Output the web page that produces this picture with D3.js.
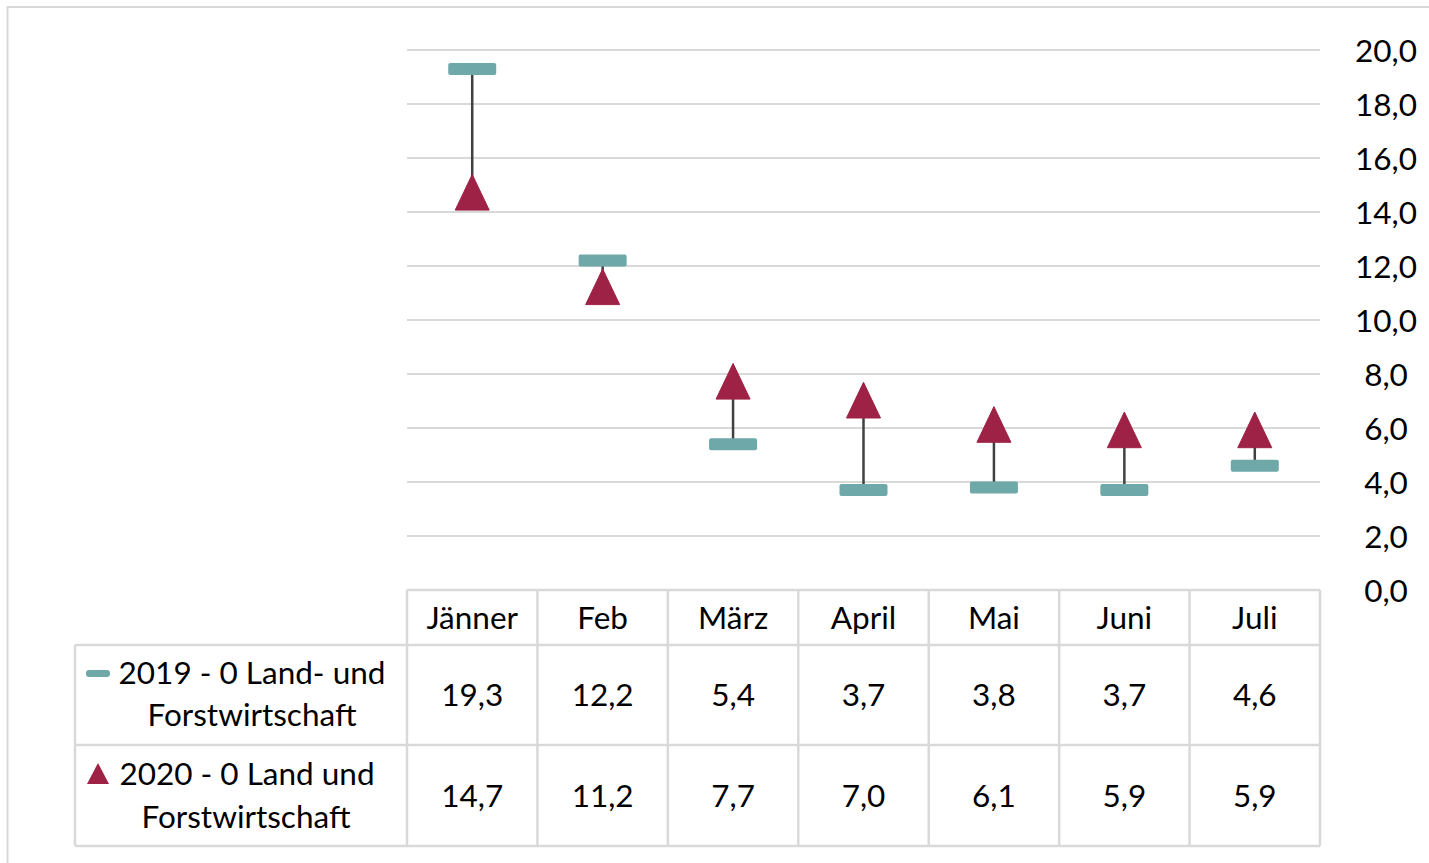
<!DOCTYPE html>
<html><head><meta charset="utf-8">
<script src="https://cdn.jsdelivr.net/npm/d3@7"></script>
<style>html,body{margin:0;padding:0;background:#fff;}svg{display:block;}</style>
</head><body>
<svg id="c" width="1429" height="863"></svg>
<script>
const categories = ["Jänner","Feb","März","April","Mai","Juni","Juli"];
const values2019 = [19.3,12.2,5.4,3.7,3.8,3.7,4.6];
const values2020 = [14.7,11.2,7.7,7.0,6.1,5.9,5.9];
const seriesNames = [["2019 - 0 Land- und","Forstwirtschaft"],["2020 - 0 Land und","Forstwirtschaft"]];
const yTicks = [0,2,4,6,8,10,12,14,16,18,20];

(function(){
const svg = d3.select("#c");
const FONT = "Lato, 'Open Sans', sans-serif";
const FS = 31.5;
const teal = "#6fa8a9", red = "#9e2246", grid = "#d9d9d9";

svg.append("rect").attr("x",7.5).attr("y",7).attr("width",1440).attr("height",900)
  .attr("fill","none").attr("stroke",grid).attr("stroke-width",2);

const pLeft = 407, pRight = 1320, pTop = 50, pBottom = 590;
const x = d3.scaleBand().domain(categories).range([pLeft,pRight]);
const y = d3.scaleLinear().domain([0,20]).range([pBottom,pTop]);

svg.append("g").selectAll("line").data(yTicks.filter(t=>t>0)).join("line")
  .attr("x1",pLeft).attr("x2",pRight).attr("y1",d=>y(d)).attr("y2",d=>y(d))
  .attr("stroke",grid).attr("stroke-width",2);

const fmt = d => d3.format(".1f")(d).replace(".",",");
const yAxis = d3.axisRight(y).tickValues(yTicks).tickFormat(fmt).tickSize(0).tickPadding(0);
const ag = svg.append("g").attr("transform",`translate(1386,0)`).call(yAxis);
ag.select(".domain").remove();
ag.selectAll("text").attr("font-family",FONT).attr("font-size",FS).attr("fill","#000")
  .attr("text-anchor","middle").attr("dy","0.35em");

const cx = d => x(d)+x.bandwidth()/2;
svg.append("g").selectAll("line").data(categories).join("line")
  .attr("x1",cx).attr("x2",cx)
  .attr("y1",(d,i)=>y(values2019[i])).attr("y2",(d,i)=>y(values2020[i]))
  .attr("stroke","#404040").attr("stroke-width",2.5);

svg.append("g").selectAll("rect").data(categories).join("rect")
  .attr("x",d=>cx(d)-24).attr("y",(d,i)=>y(values2019[i])-6)
  .attr("width",48).attr("height",12).attr("rx",2).attr("fill",teal);

const tri = (px,py,s)=>`M${px},${py-s*0.55}L${px+s*0.5},${py+s*0.5}L${px-s*0.5},${py+s*0.5}Z`;
svg.append("g").selectAll("path").data(categories).join("path")
  .attr("d",(d,i)=>tri(cx(d),y(values2020[i]),34))
  .attr("fill",red).attr("stroke",red).attr("stroke-width",1).attr("stroke-linejoin","round");

const tLeft = 75, r0 = 590, r1 = 645, r2 = 745, r3 = 846;
const tg = svg.append("g").attr("stroke",grid).attr("stroke-width",2.5).attr("fill","none");
tg.append("line").attr("x1",pLeft).attr("x2",pRight).attr("y1",r0).attr("y2",r0);
[r1,r2,r3].forEach(r=>tg.append("line").attr("x1",tLeft).attr("x2",pRight).attr("y1",r).attr("y2",r));
tg.append("line").attr("x1",tLeft).attr("x2",tLeft).attr("y1",r1).attr("y2",r3);
const vx = categories.map(c=>x(c)).concat([pRight]);
vx.forEach(v=>tg.append("line").attr("x1",v).attr("x2",v).attr("y1",r0).attr("y2",r3));

const txt = (px,py,s)=>svg.append("text").attr("x",px).attr("y",py).attr("text-anchor","middle")
  .attr("dy","0.35em").attr("font-family",FONT).attr("font-size",FS).attr("fill","#000").text(s);
categories.forEach((c,i)=>{
  txt(cx(c),(r0+r1)/2,c);
  txt(cx(c),(r1+r2)/2,fmt(values2019[i]));
  txt(cx(c),(r2+r3)/2,fmt(values2020[i]));
});
txt(252,673,seriesNames[0][0]);
txt(252,715,seriesNames[0][1]);
txt(247,774,seriesNames[1][0]);
txt(246,817,seriesNames[1][1]);
svg.append("rect").attr("x",86).attr("y",670).attr("width",24).attr("height",7).attr("rx",3).attr("fill",teal);
svg.append("path").attr("d","M98,763L109,784L87,784Z").attr("fill",red);
})();
</script>
</body></html>
